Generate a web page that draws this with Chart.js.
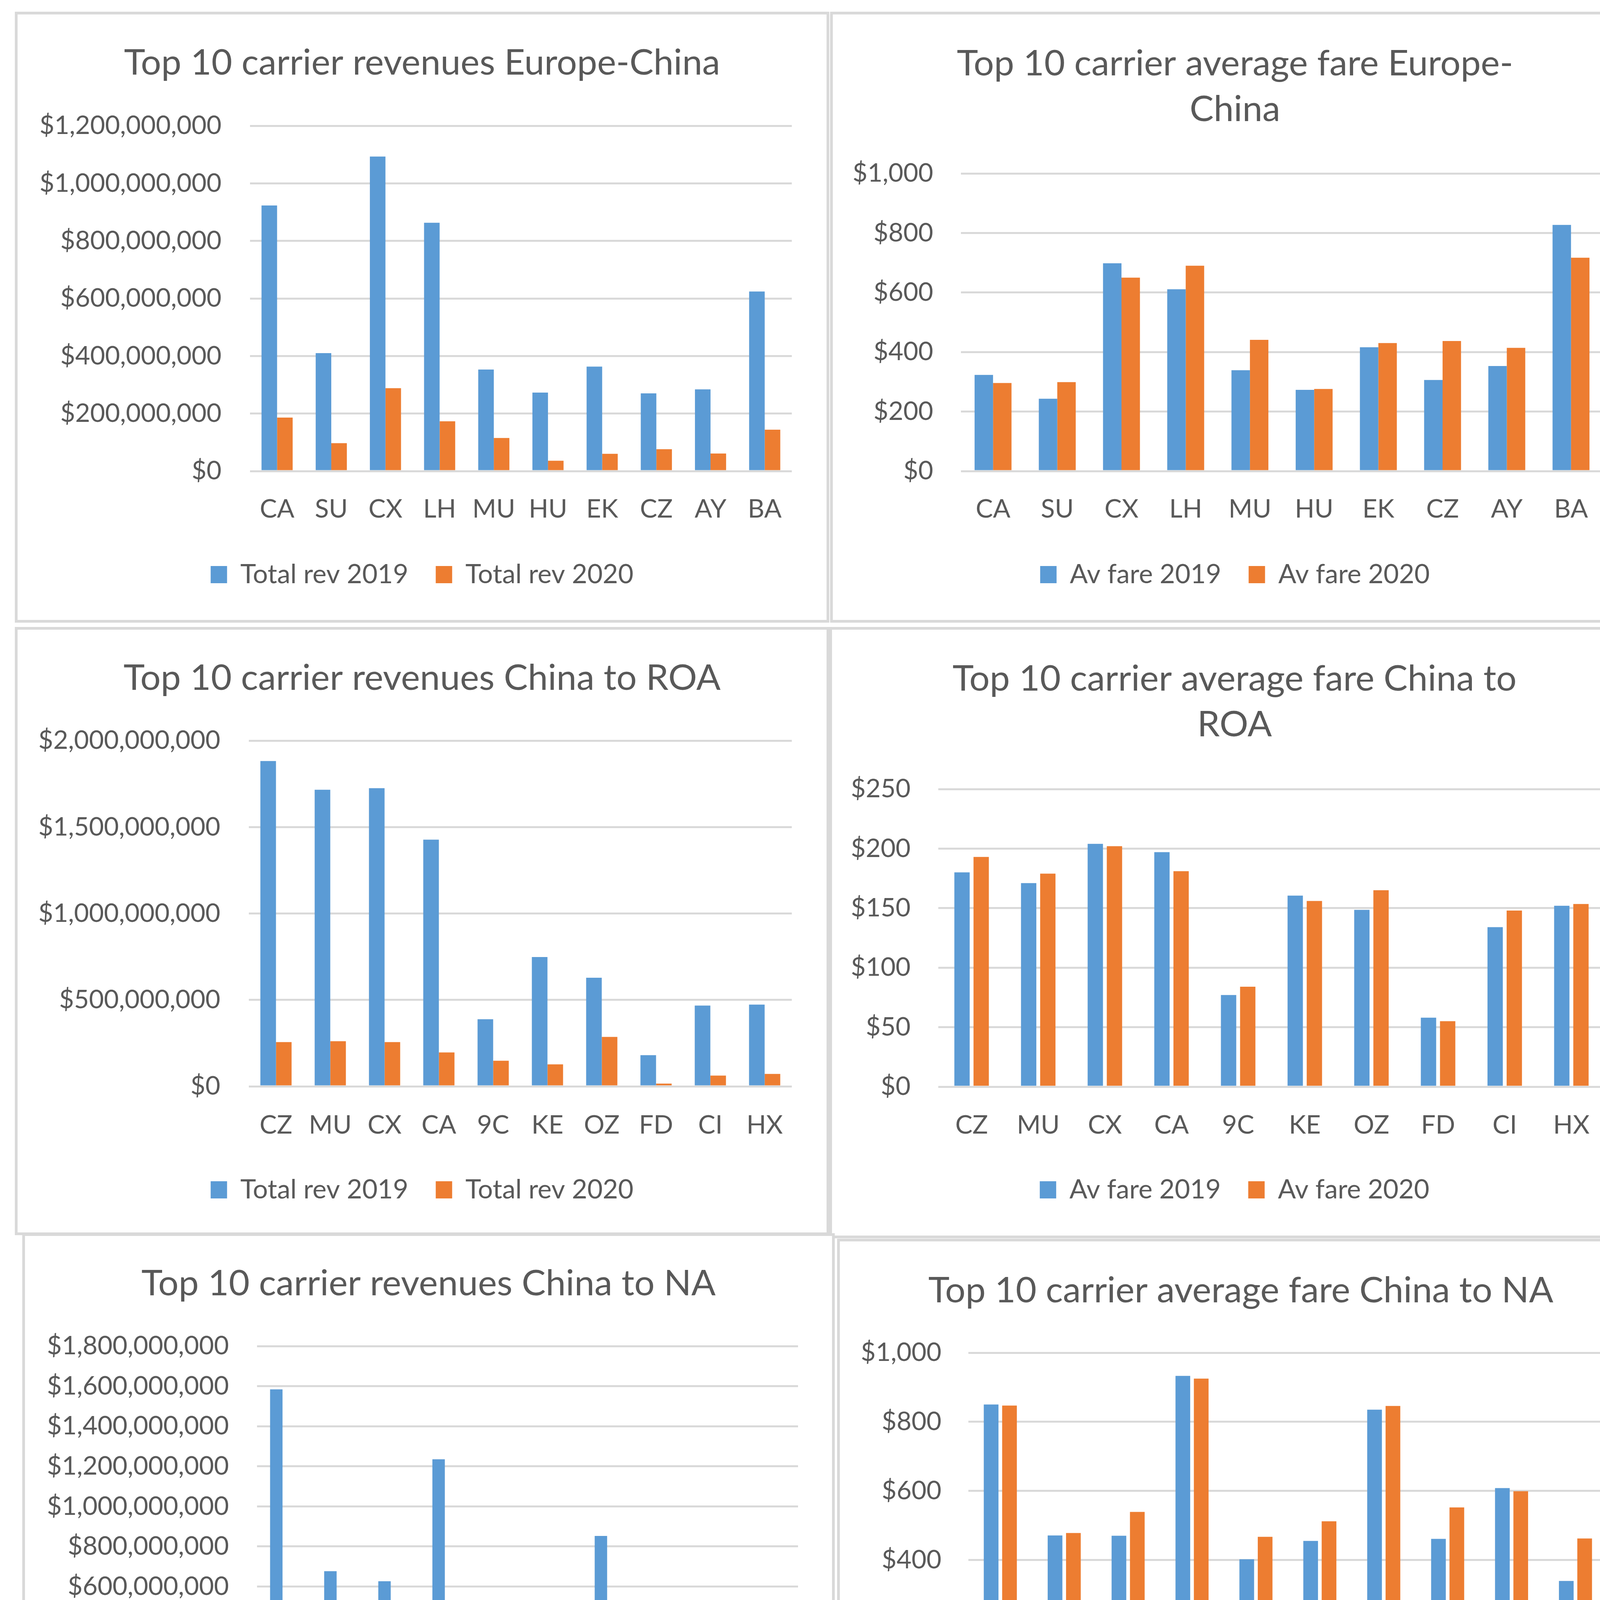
<!DOCTYPE html>
<html><head><meta charset="utf-8">
<script src="https://cdn.jsdelivr.net/npm/chart.js@4.4.1/dist/chart.umd.min.js"></script>
<style>
html,body{margin:0;padding:0;background:#fff;}
body{width:4250px;height:4781px;position:relative;overflow:hidden;font-family:Lato,sans-serif;}
.panel{position:absolute;box-sizing:border-box;border:7px solid #D9D9D9;background:#fff;}
.panel canvas{position:absolute;left:0;top:0;}
</style></head><body>
<div id="p1" class="panel"><canvas id="c1"></canvas></div>
<div id="p2" class="panel"><canvas id="c2"></canvas></div>
<div id="p3" class="panel"><canvas id="c3"></canvas></div>
<div id="p4" class="panel"><canvas id="c4"></canvas></div>
<div id="p5" class="panel"><canvas id="c5"></canvas></div>
<div id="p6" class="panel"><canvas id="c6"></canvas></div>
<script>
// ---- Data ----
const euCarriers = ['CA','SU','CX','LH','MU','HU','EK','CZ','AY','BA'];
const euRev2019 = [923e6, 410e6, 1093e6, 863e6, 353e6, 273e6, 363e6, 270e6, 284e6, 624e6];
const euRev2020 = [186e6, 97e6, 288e6, 173e6, 115e6, 36e6, 60e6, 76e6, 61e6, 144e6];
const euFare2019 = [323, 243, 698, 611, 339, 273, 416, 306, 353, 827];
const euFare2020 = [296, 299, 650, 690, 441, 276, 430, 437, 414, 717];

const roaCarriers = ['CZ','MU','CX','CA','9C','KE','OZ','FD','CI','HX'];
const roaRev2019 = [1882e6, 1716e6, 1725e6, 1427e6, 388e6, 748e6, 628e6, 180e6, 467e6, 473e6];
const roaRev2020 = [256e6, 261e6, 256e6, 196e6, 148e6, 127e6, 286e6, 16e6, 62e6, 72e6];
const roaFare2019 = [180, 171, 204, 197, 77, 160.5, 148.5, 58, 134, 152];
const roaFare2020 = [193, 179, 202, 181, 84, 156, 165, 55, 148, 153.5];

const naCarriers = ['UA','CA','AC','CX','HU','MU','DL','CZ','AA','MF'];
const naRev2019 = [1584e6, 676e6, 626e6, 1235e6, 500e6, 470e6, 852e6, 434e6, 472e6, 83e6];
const naRev2020 = [212e6, 113e6, 121e6, 333e6, 83e6, 129e6, 109e6, 83e6, 73e6, 32e6];
const naFare2019 = [850, 471, 470, 933, 402, 455, 835, 461, 608, 339];
const naFare2020 = [847, 478, 539, 925, 467, 512, 846, 552, 599, 462];

const revLabels = ['Total rev 2019', 'Total rev 2020'];
const fareLabels = ['Av fare 2019', 'Av fare 2020'];

const titles = [
  'Top 10 carrier revenues Europe-China',
  ['Top 10 carrier average fare Europe-', 'China'],
  'Top 10 carrier revenues China to ROA',
  ['Top 10 carrier average fare China to', 'ROA'],
  'Top 10 carrier revenues China to NA',
  'Top 10 carrier average fare China to NA'
];
const axisMax = [1.2e9, 1000, 2e9, 250, 1.8e9, 1000];
const axisStep = [2e8, 200, 5e8, 50, 2e8, 200];

// ---- Layout (page px) ----
const panels = [
  {box:[38,30,2123,1594], plot:[640,322,2027,1206], titleY:161, catY:1302, legY:1471, tickPad:73, barPct:1, cats:euCarriers, s1:euRev2019, s2:euRev2020, names:revLabels},
  {box:[2125,30,4198,1594], plot:[2460,444,4104,1206], titleY:163, catY:1302, legY:1471, tickPad:71, barPct:1, cats:euCarriers, s1:euFare2019, s2:euFare2020, names:fareLabels},
  {box:[38,1605,2123,3162], plot:[637,1896,2027,2781], titleY:1736, catY:2879, legY:3046, tickPad:73, barPct:1, cats:roaCarriers, s1:roaRev2019, s2:roaRev2020, names:revLabels},
  {box:[2123,1605,4198,3170], plot:[2402,2020,4108,2782], titleY:1738, catY:2879, legY:3046, tickPad:71, barPct:0.8, cats:roaCarriers, s1:roaFare2019, s2:roaFare2020, names:fareLabels},
  {box:[57,3157,2137,4758], plot:[658,3446,2043,4369], titleY:3286, catY:4465, legY:4634, tickPad:72, barPct:0.8, cats:naCarriers, s1:naRev2019, s2:naRev2020, names:revLabels},
  {box:[2143,3171,4210,4736], plot:[2479,3463,4115,4347], titleY:3304, catY:4444, legY:4613, tickPad:69, barPct:0.8, cats:naCarriers, s1:naFare2019, s2:naFare2020, names:fareLabels}
];

const fmt = new Intl.NumberFormat('en-US');
const TEXT = '#595959';
const TITLE_SIZE = 92, TITLE_LH = 1.28, TICK_SIZE = 66, LEG_SIZE = 68;

function makeChart(p, i){
  const [L,T,R,B] = p.box;
  const div = document.getElementById('p'+(i+1));
  div.style.left = L+'px'; div.style.top = T+'px';
  div.style.width = (R-L)+'px'; div.style.height = (B-T)+'px';
  const ox = L+7, oy = T+7, W = R-L-14, H = B-T-14;
  const cv = document.getElementById('c'+(i+1));
  cv.width = W; cv.height = H; cv.style.width = W+'px'; cv.style.height = H+'px';
  const pl = p.plot[0]-ox, pt = p.plot[1]-oy, pr = p.plot[2]-ox, pb = p.plot[3]-oy;
  const lines = Array.isArray(titles[i]) ? titles[i].length : 1;
  const lh = TITLE_SIZE*TITLE_LH;
  const titleTop = Math.max(0, p.titleY - oy - lh/2);
  const st = {tb: Math.max(0, pt - titleTop - lh*lines), xh: 140, lp: 20};
  const chart = new Chart(cv, {
    type: 'bar',
    data: {
      labels: p.cats,
      datasets: [
        {label: p.names[0], data: p.s1, backgroundColor: '#5B9BD5', borderWidth: 0, categoryPercentage: 0.575, barPercentage: p.barPct, yAxisID: 'y'},
        {label: p.names[1], data: p.s2, backgroundColor: '#ED7D31', borderWidth: 0, categoryPercentage: 0.575, barPercentage: p.barPct, yAxisID: 'y'}
      ]
    },
    options: {
      responsive: false, animation: false, devicePixelRatio: 1,
      layout: {padding: {left: 0, right: 0, top: 0, bottom: st.lp}},
      plugins: {
        title: {display: true, text: titles[i], color: TEXT, font: {family: 'Lato', size: TITLE_SIZE, lineHeight: TITLE_LH, weight: 'normal'}, padding: {top: titleTop, bottom: st.tb}},
        legend: {position: 'bottom', labels: {color: TEXT, font: {family: 'Lato', size: LEG_SIZE, lineHeight: 1.2}, boxWidth: 42, boxHeight: 44, padding: 70}},
        tooltip: {enabled: false}
      },
      scales: {
        x: {
          grid: {display: false, drawTicks: false}, border: {display: false},
          ticks: {color: TEXT, font: {family: 'Lato', size: TICK_SIZE, lineHeight: 1.2}, padding: p.catY - p.plot[3] - 38, maxRotation: 0, autoSkip: false},
          afterFit(s){ s.height = st.xh; }
        },
        y: {
          min: 0, max: axisMax[i],
          ticks: {stepSize: axisStep[i], color: TEXT, font: {family: 'Lato', size: TICK_SIZE, lineHeight: 1.2}, padding: p.tickPad, callback: v => '$' + fmt.format(v)},
          grid: {color: '#D9D9D9', lineWidth: 5, drawTicks: false}, border: {display: false},
          afterFit(s){ s.width = pl; }
        },
        y2: {
          position: 'right', display: true,
          grid: {display: false, drawTicks: false}, border: {display: false}, ticks: {display: false},
          afterFit(s){ s.width = W - pr; }
        }
      }
    }
  });
  for (let k = 0; k < 4; k++) {
    const ca = chart.chartArea;
    const hb = chart.legend.legendHitBoxes[0];
    const legC = hb.top + hb.height/2;
    const dL = (p.legY - oy) - legC;
    st.tb += pt - ca.top;
    st.lp -= dL;
    st.xh += (ca.bottom + dL) - pb;
    chart.options.plugins.title.padding = {top: titleTop, bottom: st.tb};
    chart.options.layout.padding = {left: 0, right: 0, top: 0, bottom: st.lp};
    chart.update('none');
  }
}

Chart.defaults.font.family = 'Lato';
Chart.defaults.color = TEXT;
Promise.all([document.fonts.load('92px Lato'), document.fonts.load('66px Lato')]).catch(()=>{}).then(() => {
  panels.forEach(makeChart);
});
</script>
</body></html>
